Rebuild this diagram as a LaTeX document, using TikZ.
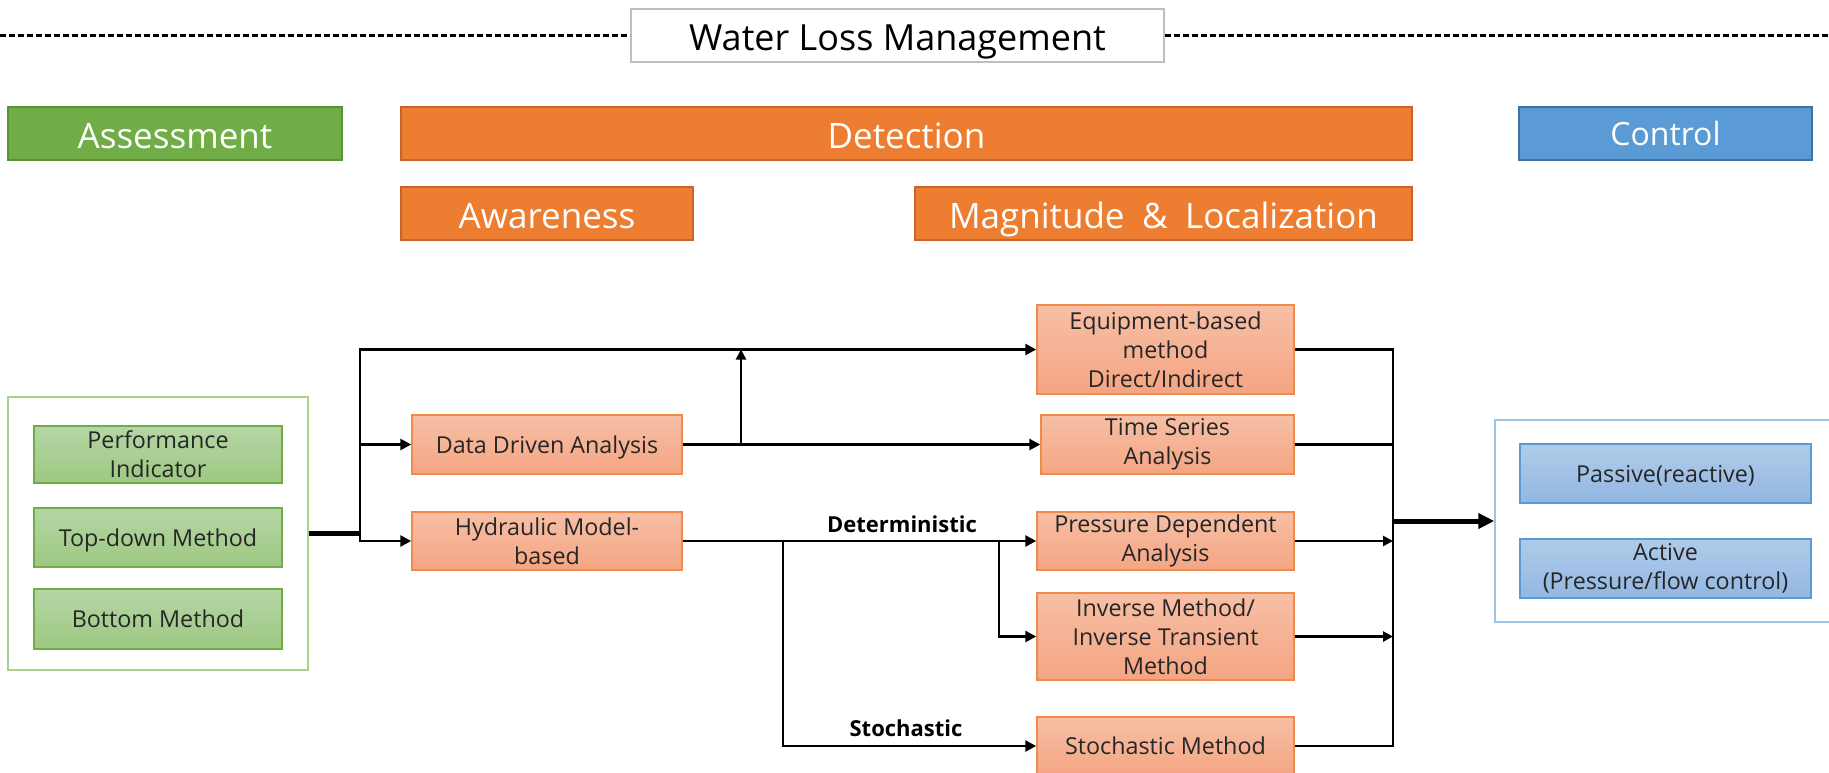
\documentclass[tikz,border=0pt]{standalone}
\usepackage{fontspec}
\setmainfont{Open Sans}
\usetikzlibrary{arrows.meta}

\definecolor{txt}{RGB}{38,38,38}
\definecolor{oTop}{RGB}{247,191,166}
\definecolor{oBot}{RGB}{244,165,130}
\definecolor{oLine}{RGB}{240,138,75}
\definecolor{gTop}{RGB}{181,214,165}
\definecolor{gBot}{RGB}{157,200,130}
\definecolor{gLine}{RGB}{112,173,71}
\definecolor{bTop}{RGB}{176,203,233}
\definecolor{bBot}{RGB}{146,183,226}
\definecolor{bLine}{RGB}{91,155,213}
\definecolor{gOuter}{RGB}{169,209,142}
\definecolor{bOuter}{RGB}{157,195,230}
\definecolor{hGreen}{RGB}{112,173,71}
\definecolor{hGreenLine}{RGB}{90,145,55}
\definecolor{hOrange}{RGB}{237,125,49}
\definecolor{hOrangeLine}{RGB}{200,100,40}
\definecolor{hBlue}{RGB}{91,155,213}
\definecolor{hBlueLine}{RGB}{65,113,156}
\definecolor{titleLine}{RGB}{191,191,191}

\tikzset{
  hdr/.style={inner sep=0pt, line width=1.5pt, text=white,
    font=\fontsize{35}{42}\selectfont, text height=29pt, text depth=0pt},
  box/.style={inner sep=0pt, line width=1.5pt, align=center, text=txt,
    font=\fontsize{23.3}{29}\selectfont},
  oneline/.style={text height=17pt, text depth=0pt},
  obox/.style={box, draw=oLine, top color=oTop, bottom color=oBot},
  gbox/.style={box, draw=gLine, top color=gTop, bottom color=gBot},
  bbox/.style={box, draw=bLine, top color=bTop, bottom color=bBot},
  conn/.style={line width=2.6pt, draw=black, line join=miter},
  arr/.style={conn, -{Triangle[length=11pt,width=11pt]}},
  lbl/.style={text=black, font=\fontsize{22}{26}\selectfont\bfseries}
}

\begin{document}
\begin{tikzpicture}[x=1pt,y=-1pt]
\clip (0,0) rectangle (1829,772);
\fill[white] (0,0) rectangle (1829,772);

% title and dashed rule
\node[draw=titleLine, line width=2pt, fill=white, inner sep=0pt,
      minimum width=533pt, minimum height=53pt, text=black,
      font=\fontsize{36}{42}\selectfont, text height=29pt, text depth=0pt]
  (title) at (897.5,35.5) {Water Loss Management};
\coordinate (dl) at (0,35.5);
\coordinate (dr) at (1829,35.5);
\draw[line width=2.4pt, dash pattern=on 6pt off 3pt] (dl) -- (title.west);
\draw[line width=2.4pt, dash pattern=on 6pt off 3pt] (title.east) -- (dr);

% stage headers
\node[hdr, draw=hGreenLine, fill=hGreen, minimum width=334pt, minimum height=53pt]
  (assess) at (175,133.5) {Assessment};
\node[hdr, draw=hOrangeLine, fill=hOrange, minimum width=1011pt, minimum height=53pt]
  (detect) at (906.5,133.5) {Detection};
\node[hdr, draw=hBlueLine, fill=hBlue, minimum width=293pt, minimum height=53pt,
      font=\fontsize{32}{38}\selectfont, text height=23pt]
  (control) at (1665.5,133.5) {Control};
\node[hdr, draw=hOrangeLine, fill=hOrange, minimum width=292pt, minimum height=53pt]
  (aware) at (547,213.5) {Awareness};
\node[hdr, draw=hOrangeLine, fill=hOrange, minimum width=497pt, minimum height=53pt]
  (magloc) at (1163.5,213.5) {Magnitude\enspace\&\enspace Localization};

% assessment group
\node[draw=gOuter, line width=1.5pt, fill=white, minimum width=300pt, minimum height=273pt]
  (og) at (158,533.5) {};
\node[gbox, minimum width=248pt, minimum height=57pt] (perf) at (158,454.5) {Performance\\Indicator};
\node[gbox, oneline, minimum width=248pt, minimum height=59pt] (topdown) at (158,537.5) {Top-down Method};
\node[gbox, oneline, minimum width=248pt, minimum height=60pt] (bottom) at (158,619) {Bottom Method};

% detection methods
\node[obox, oneline, minimum width=270pt, minimum height=59pt] (dda) at (547,444.5) {Data Driven Analysis};
\node[obox, minimum width=270pt, minimum height=58pt] (hmb) at (547,541) {Hydraulic Model-\\based};
\node[obox, minimum width=257pt, minimum height=89pt] (equip) at (1165.5,349.5) {Equipment-based\\method\\Direct/Indirect};
\node[obox, minimum width=253pt, minimum height=59pt] (tsa) at (1167.5,444.5) {Time Series\\Analysis};
\node[obox, minimum width=257pt, minimum height=58pt] (pda) at (1165.5,541) {Pressure Dependent\\Analysis};
\node[obox, minimum width=257pt, minimum height=87pt] (inv) at (1165.5,636.5) {Inverse Method/\\Inverse Transient\\Method};
\node[obox, oneline, minimum width=257pt, minimum height=58pt] (stoch) at (1165.5,746) {Stochastic Method};

% control group
\node[draw=bOuter, line width=1.5pt, fill=white, minimum width=345pt, minimum height=202pt]
  (ob) at (1667.5,521) {};
\node[bbox, oneline, minimum width=291pt, minimum height=59pt] (passive) at (1665.5,473.5) {Passive(reactive)};
\node[bbox, minimum width=291pt, minimum height=59pt] (active) at (1665.5,568.5) {Active\\(Pressure/flow control)};

% junction points
\coordinate (j1) at (360,533.5);
\coordinate (u1) at (741,444.5);
\coordinate (u2) at (741,349.5);
\coordinate (b1) at (783,541);
\coordinate (b2) at (999,541);
\coordinate (bt) at (1393,349.5);
\coordinate (bb) at (1393,746);
\coordinate (bm) at (1393,521);

% assessment to detection
\draw[line width=5pt] (og.east) -- (j1);
\draw[arr] (j1) |- (dda.west);
\draw[arr] (j1) |- (hmb.west);
\draw[arr] (j1) |- (equip.west);

% data driven branch
\draw[arr] (dda.east) -- (tsa.west);
\draw[arr, -{Triangle[length=10pt,width=10pt]}] (u1) -- (u2);

% hydraulic model branch
\draw[arr] (hmb.east) -- (pda.west);
\draw[arr] (b1) |- (stoch.west);
\draw[arr] (b2) |- (inv.west);
\node[lbl] (det) at (902,524) {Deterministic};
\node[lbl] (sto) at (906,728) {Stochastic};

% collecting bus to control
\draw[conn] (equip.east) -- (bt) -- (bb) -- (stoch.east);
\draw[conn] (tsa.east) -- (tsa.east -| bt);
\draw[arr, -{Triangle[length=10pt,width=10pt]}] (pda.east) -- (pda.east -| bt);
\draw[arr, -{Triangle[length=10pt,width=10pt]}] (inv.east) -- (inv.east -| bt);
\draw[line width=5pt, -{Triangle[length=16pt,width=15pt]}] (bm) -- (ob.west);
\end{tikzpicture}
\end{document}
